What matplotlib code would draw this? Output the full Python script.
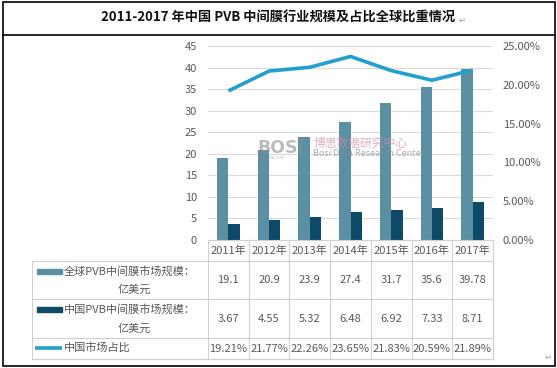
import matplotlib
matplotlib.use('Agg')
import matplotlib.pyplot as plt
from matplotlib.patches import Rectangle
from matplotlib.transforms import blended_transform_factory

plt.rcParams['font.family'] = ['Noto Sans CJK SC', 'DejaVu Sans']

# 数据
years = ['2011年', '2012年', '2013年', '2014年', '2015年', '2016年', '2017年']
global_size = [19.1, 20.9, 23.9, 27.4, 31.7, 35.6, 39.78]
china_size = [3.67, 4.55, 5.32, 6.48, 6.92, 7.33, 8.71]
china_share = [19.21, 21.77, 22.26, 23.65, 21.83, 20.59, 21.89]
series_names = ['全球PVB中间膜市场规模：亿美元', '中国PVB中间膜市场规模：亿美元', '中国市场占比']
title = '2011-2017 年中国 PVB 中间膜行业规模及占比全球比重情况'

c_global = '#5B90A4'
c_china = '#0D4A67'
c_share = '#21A0CF'
c_text = '#595959'
c_grid = '#D9D9D9'

W, H = 557, 368
fig = plt.figure(figsize=(W / 100, H / 100), dpi=100)

# 主图区
ax = fig.add_axes([208 / W, (H - 240) / H, 285 / W, 194 / H])
x = list(range(len(years)))
bw = 0.28
ax.bar([i - bw / 2 for i in x], global_size, width=bw, color=c_global, zorder=2)
ax.bar([i + bw / 2 for i in x], china_size, width=bw, color=c_china, zorder=2)
ax.set_xlim(-0.5, len(years) - 0.5)
ax.set_ylim(0, 45)
ax.set_yticks(range(0, 46, 5))
ax.set_xticks([])
ax.yaxis.grid(True, color=c_grid, linewidth=0.8, zorder=0)
ax.set_axisbelow(True)
for s in ax.spines.values():
    s.set_visible(False)
ax.tick_params(axis='y', length=0, pad=8, labelsize=8, labelcolor=c_text)

ax2 = ax.twinx()
ax2.plot(x, [v / 100 for v in china_share], color=c_share, linewidth=2.6,
         solid_capstyle='butt', zorder=3)
ax2.set_ylim(0, 0.25)
ax2.set_yticks([0, 0.05, 0.10, 0.15, 0.20, 0.25])
ax2.set_yticklabels([f'{v * 100:.2f}%' for v in ax2.get_yticks()])
for s in ax2.spines.values():
    s.set_visible(False)
ax2.tick_params(axis='y', length=0, pad=7, labelsize=8, labelcolor=c_text)

# 像素坐标覆盖层：边框、标题、数据表
ov = fig.add_axes([0, 0, 1, 1], zorder=5)
ov.set_xlim(0, W)
ov.set_ylim(H, 0)
ov.axis('off')
ov.patch.set_alpha(0)

ov.add_patch(Rectangle((2.5, 1.5), 552, 364.5, fill=False, edgecolor='black', linewidth=1.2))
ov.plot([2.5, 554.5], [35, 35], color='black', linewidth=1.2)
ov.text(278, 18, title, ha='center', va='center', fontsize=9.5, fontweight='bold', color='#111111')
ov.text(462, 20, '↵', ha='center', va='center', fontsize=6, color='#999999',
        family=['DejaVu Sans'])
ov.text(548, 357, '↵', ha='center', va='center', fontsize=6, color='#999999',
        family=['DejaVu Sans'])

# 水印
ov.text(257, 148, 'BOSi', ha='left', va='center', fontsize=12.5, fontweight='bold',
        color='#8E8E8E', alpha=0.6, family=['DejaVu Sans'])
ov.text(258, 158, 'BOSIDATA.COM', ha='left', va='center', fontsize=2.5,
        color='#8E8E8E', alpha=0.6, family=['DejaVu Sans'])
ov.text(313, 143, '博思数据研究中心', ha='left', va='center', fontsize=8.5,
        color='#D88AA2', alpha=0.7)
ov.text(313, 154, 'Bosi Data Research Center', ha='left', va='center', fontsize=6.5,
        color='#8A8A8A', alpha=0.7)

# 数据表
tr = blended_transform_factory(ax.transData, ov.transData)
c_line = '#D0D0D0'
row_edges = [261, 299, 338, 359]
row_centers = [280, 318.5, 348.5]
n = len(years)
ov.plot([-0.5, n - 0.5], [240, 240], color=c_line, linewidth=0.8, transform=tr)
for yy in row_edges:
    ov.plot([32, 208], [yy, yy], color=c_line, linewidth=0.8)
    ov.plot([-0.5, n - 0.5], [yy, yy], color=c_line, linewidth=0.8, transform=tr)
ov.plot([32, 32], [261, 359], color=c_line, linewidth=0.8)
for i in range(n + 1):
    ov.plot([i - 0.5, i - 0.5], [240, 359], color=c_line, linewidth=0.8, transform=tr)

cell_text = [
    [f'{v:g}' for v in global_size],
    [f'{v:.2f}' for v in china_size],
    [f'{v:.2f}%' for v in china_share],
]
for i, yr in enumerate(years):
    ov.text(i, 250.5, yr, ha='center', va='center', fontsize=8, color=c_text, transform=tr)
    for r in range(3):
        ov.text(i, row_centers[r], cell_text[r][i], ha='center', va='center',
                fontsize=8, color=c_text, transform=tr)

# 图例行标签
for r, (name, col) in enumerate(zip(series_names[:2], [c_global, c_china])):
    y1 = 271 + r * 38.5
    ov.add_patch(Rectangle((37, y1 - 2.5), 25, 5, color=col))
    head, tail = name.split('：')
    ov.text(64, y1, head + '：', ha='left', va='center', fontsize=8, color=c_text)
    ov.text(134, y1 + 19, tail, ha='center', va='center', fontsize=8, color=c_text)
ov.plot([35, 62], [347.5, 347.5], color=c_share, linewidth=2.6, solid_capstyle='butt')
ov.text(64, 347.5, series_names[2], ha='left', va='center', fontsize=8, color=c_text)

fig.savefig('out.png', dpi=100)
